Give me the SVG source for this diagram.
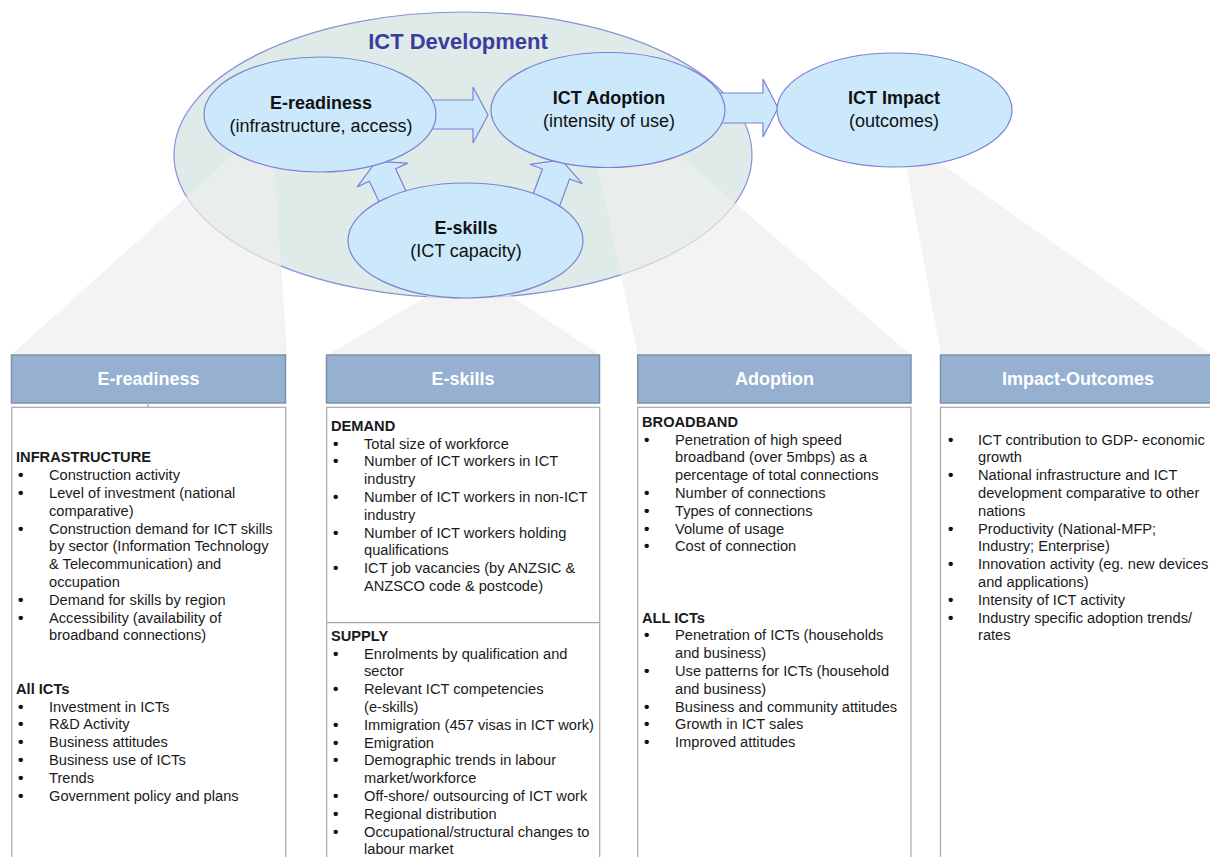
<svg xmlns="http://www.w3.org/2000/svg" width="1210" height="857" viewBox="0 0 1210 857">
  <style>
    text { font-family: "Liberation Sans", Arial, sans-serif; }
    .fan { fill: #eeeeee; fill-opacity: 0.7; stroke: none; }
    .bubble { fill: #cce9fc; stroke: #7d80d6; stroke-width: 1.2; }
    .flow { fill: #cce9fc; stroke: #7d80d6; stroke-width: 1.2; stroke-linejoin: miter; }
    .ttl { font-size: 18px; font-weight: bold; fill: #111; text-anchor: middle; }
    .sub { font-size: 18px; fill: #111; text-anchor: middle; }
    .hdr { fill: #95b0d0; stroke: #7f90a8; stroke-width: 1.5; }
    .hdrtxt { font-size: 18px; font-weight: bold; fill: #ffffff; text-anchor: middle; }
    .panel { fill: #ffffff; stroke: #a8a8a8; stroke-width: 1.2; }
    .b { font-size: 14.65px; font-weight: bold; fill: #1a1a1a; }
    .t { font-size: 14.65px; fill: #1a1a1a; }
    .dot { font-size: 15.5px; font-weight: bold; fill: #111; }
  </style>

  <!-- outer ICT development region -->
  <g id="ict-development">
    <ellipse cx="463" cy="155" rx="289" ry="143" fill="#deebe8" stroke="#8b8fdc" stroke-width="1.2"/>
    <text x="458" y="49" font-size="22" font-weight="bold" fill="#3c3c9c" text-anchor="middle">ICT Development</text>
  </g>

  <!-- projection fans from each bubble down to its panel -->
  <g id="fans">
    <polygon class="fan" points="240,149 274,158 287,355 11,355"/>
    <polygon class="fan" points="438,290 502,290 600,355 327,355"/>
    <polygon class="fan" points="596,160 676,152 911,355 638,355"/>
    <polygon class="fan" points="905,160 933,158 1212,355 941,355"/>
  </g>

  <!-- block arrows between bubbles -->
  <g id="connectors">
    <polygon class="flow" points="420,100 473,100 473,87 488,115 473,143 473,129 420,129"/>
    <polygon class="flow" points="700,93 763,93 763,79 778,108 763,137 763,123 700,123"/>
    <polygon class="flow" points="376.1,161.4 407.8,163.1 395.6,168.8 412.6,205 386.4,217.4 369.4,181.2 357.2,186.9"/>
    <polygon class="flow" points="561.2,159.9 582.3,183.7 569.6,179 555.7,216.5 528.5,206.5 542.4,169 529.8,164.3"/>
  </g>

  <g id="e-readiness">
    <ellipse class="bubble" cx="320" cy="114.5" rx="116" ry="57.5"/>
    <text class="ttl" x="321" y="109">E-readiness</text>
    <text class="sub" x="321" y="132">(infrastructure, access)</text>
  </g>

  <g id="ict-adoption">
    <ellipse class="bubble" cx="608" cy="110" rx="117" ry="57.5"/>
    <text class="ttl" x="609" y="104">ICT Adoption</text>
    <text class="sub" x="609" y="127">(intensity of use)</text>
  </g>

  <g id="ict-impact">
    <ellipse class="bubble" cx="894.5" cy="110" rx="117.5" ry="57"/>
    <text class="ttl" x="894" y="104">ICT Impact</text>
    <text class="sub" x="894" y="127">(outcomes)</text>
  </g>

  <g id="e-skills">
    <ellipse class="bubble" cx="465.5" cy="240.5" rx="117.5" ry="57.5"/>
    <text class="ttl" x="466" y="234">E-skills</text>
    <text class="sub" x="466" y="257">(ICT capacity)</text>
  </g>

  <!-- panel 1: E-readiness -->
  <g id="panel-e-readiness">
    <rect class="hdr" x="11.5" y="355" width="274" height="48"/>
    <text class="hdrtxt" x="148.5" y="385">E-readiness</text>
    <line x1="148" y1="403" x2="148" y2="407.5" stroke="#a8a8a8" stroke-width="1.2"/>
    <rect class="panel" x="11.8" y="407.3" width="274" height="470"/>
    <text class="b" x="16" y="462.3">INFRASTRUCTURE</text>
    <text class="dot" x="18" y="480.1">•</text><text class="t" x="49" y="480.1">Construction activity</text>
    <text class="dot" x="18" y="497.9">•</text><text class="t" x="49" y="497.9">Level of investment (national</text>
    <text class="t" x="49" y="515.7">comparative)</text>
    <text class="dot" x="18" y="533.5">•</text><text class="t" x="49" y="533.5">Construction demand for ICT skills</text>
    <text class="t" x="49" y="551.3">by sector (Information Technology</text>
    <text class="t" x="49" y="569.1">&amp; Telecommunication) and</text>
    <text class="t" x="49" y="586.9">occupation</text>
    <text class="dot" x="18" y="604.7">•</text><text class="t" x="49" y="604.7">Demand for skills by region</text>
    <text class="dot" x="18" y="622.5">•</text><text class="t" x="49" y="622.5">Accessibility (availability of</text>
    <text class="t" x="49" y="640.3">broadband connections)</text>
    <text class="b" x="16" y="693.7">All ICTs</text>
    <text class="dot" x="18" y="711.5">•</text><text class="t" x="49" y="711.5">Investment in ICTs</text>
    <text class="dot" x="18" y="729.3">•</text><text class="t" x="49" y="729.3">R&amp;D Activity</text>
    <text class="dot" x="18" y="747.1">•</text><text class="t" x="49" y="747.1">Business attitudes</text>
    <text class="dot" x="18" y="764.9">•</text><text class="t" x="49" y="764.9">Business use of ICTs</text>
    <text class="dot" x="18" y="782.7">•</text><text class="t" x="49" y="782.7">Trends</text>
    <text class="dot" x="18" y="800.5">•</text><text class="t" x="49" y="800.5">Government policy and plans</text>
  </g>

  <!-- panel 2: E-skills -->
  <g id="panel-e-skills">
    <rect class="hdr" x="326.5" y="355" width="273" height="48"/>
    <text class="hdrtxt" x="463" y="385">E-skills</text>
    <rect class="panel" x="326.7" y="407.3" width="273" height="470"/>
    <line x1="326.7" y1="622.7" x2="599.7" y2="622.7" stroke="#a8a8a8" stroke-width="1.2"/>
    <text class="b" x="331" y="430.7">DEMAND</text>
    <text class="dot" x="333" y="448.5">•</text><text class="t" x="364" y="448.5">Total size of workforce</text>
    <text class="dot" x="333" y="466.3">•</text><text class="t" x="364" y="466.3">Number of ICT workers in ICT</text>
    <text class="t" x="364" y="484.1">industry</text>
    <text class="dot" x="333" y="501.9">•</text><text class="t" x="364" y="501.9">Number of ICT workers in non-ICT</text>
    <text class="t" x="364" y="519.7">industry</text>
    <text class="dot" x="333" y="537.5">•</text><text class="t" x="364" y="537.5">Number of ICT workers holding</text>
    <text class="t" x="364" y="555.3">qualifications</text>
    <text class="dot" x="333" y="573.1">•</text><text class="t" x="364" y="573.1">ICT job vacancies (by ANZSIC &amp;</text>
    <text class="t" x="364" y="590.9">ANZSCO code &amp; postcode)</text>
    <text class="b" x="331" y="640.7">SUPPLY</text>
    <text class="dot" x="333" y="658.5">•</text><text class="t" x="364" y="658.5">Enrolments by qualification and</text>
    <text class="t" x="364" y="676.3">sector</text>
    <text class="dot" x="333" y="694.1">•</text><text class="t" x="364" y="694.1">Relevant ICT competencies</text>
    <text class="t" x="364" y="711.9">(e-skills)</text>
    <text class="dot" x="333" y="729.7">•</text><text class="t" x="364" y="729.7">Immigration (457 visas in ICT work)</text>
    <text class="dot" x="333" y="747.5">•</text><text class="t" x="364" y="747.5">Emigration</text>
    <text class="dot" x="333" y="765.3">•</text><text class="t" x="364" y="765.3">Demographic trends in labour</text>
    <text class="t" x="364" y="783.1">market/workforce</text>
    <text class="dot" x="333" y="800.9">•</text><text class="t" x="364" y="800.9">Off-shore/ outsourcing of ICT work</text>
    <text class="dot" x="333" y="818.7">•</text><text class="t" x="364" y="818.7">Regional distribution</text>
    <text class="dot" x="333" y="836.5">•</text><text class="t" x="364" y="836.5">Occupational/structural changes to</text>
    <text class="t" x="364" y="854.3">labour market</text>
  </g>

  <!-- panel 3: Adoption -->
  <g id="panel-adoption">
    <rect class="hdr" x="637.7" y="355" width="273.3" height="48"/>
    <text class="hdrtxt" x="774.5" y="385">Adoption</text>
    <rect class="panel" x="637.7" y="407.3" width="273.3" height="470"/>
    <text class="b" x="642" y="426.7">BROADBAND</text>
    <text class="dot" x="644" y="444.5">•</text><text class="t" x="675" y="444.5">Penetration of high speed</text>
    <text class="t" x="675" y="462.3">broadband (over 5mbps) as a</text>
    <text class="t" x="675" y="480.1">percentage of total connections</text>
    <text class="dot" x="644" y="497.9">•</text><text class="t" x="675" y="497.9">Number of connections</text>
    <text class="dot" x="644" y="515.7">•</text><text class="t" x="675" y="515.7">Types of connections</text>
    <text class="dot" x="644" y="533.5">•</text><text class="t" x="675" y="533.5">Volume of usage</text>
    <text class="dot" x="644" y="551.3">•</text><text class="t" x="675" y="551.3">Cost of connection</text>
    <text class="b" x="642" y="622.5">ALL ICTs</text>
    <text class="dot" x="644" y="640.3">•</text><text class="t" x="675" y="640.3">Penetration of ICTs (households</text>
    <text class="t" x="675" y="658.1">and business)</text>
    <text class="dot" x="644" y="675.9">•</text><text class="t" x="675" y="675.9">Use patterns for ICTs (household</text>
    <text class="t" x="675" y="693.7">and business)</text>
    <text class="dot" x="644" y="711.5">•</text><text class="t" x="675" y="711.5">Business and community attitudes</text>
    <text class="dot" x="644" y="729.3">•</text><text class="t" x="675" y="729.3">Growth in ICT sales</text>
    <text class="dot" x="644" y="747.1">•</text><text class="t" x="675" y="747.1">Improved attitudes</text>
  </g>

  <!-- panel 4: Impact-Outcomes -->
  <g id="panel-impact">
    <rect class="hdr" x="940.5" y="355" width="275" height="48"/>
    <text class="hdrtxt" x="1078" y="385">Impact-Outcomes</text>
    <rect class="panel" x="940.5" y="407.3" width="275" height="470"/>
    <text class="dot" x="948" y="444.5">•</text><text class="t" x="978" y="444.5">ICT contribution to GDP- economic</text>
    <text class="t" x="978" y="462.3">growth</text>
    <text class="dot" x="948" y="480.1">•</text><text class="t" x="978" y="480.1">National infrastructure and ICT</text>
    <text class="t" x="978" y="497.9">development comparative to other</text>
    <text class="t" x="978" y="515.7">nations</text>
    <text class="dot" x="948" y="533.5">•</text><text class="t" x="978" y="533.5">Productivity (National-MFP;</text>
    <text class="t" x="978" y="551.3">Industry; Enterprise)</text>
    <text class="dot" x="948" y="569.1">•</text><text class="t" x="978" y="569.1">Innovation activity (eg. new devices</text>
    <text class="t" x="978" y="586.9">and applications)</text>
    <text class="dot" x="948" y="604.7">•</text><text class="t" x="978" y="604.7">Intensity of ICT activity</text>
    <text class="dot" x="948" y="622.5">•</text><text class="t" x="978" y="622.5">Industry specific adoption trends/</text>
    <text class="t" x="978" y="640.3">rates</text>
  </g>
</svg>
